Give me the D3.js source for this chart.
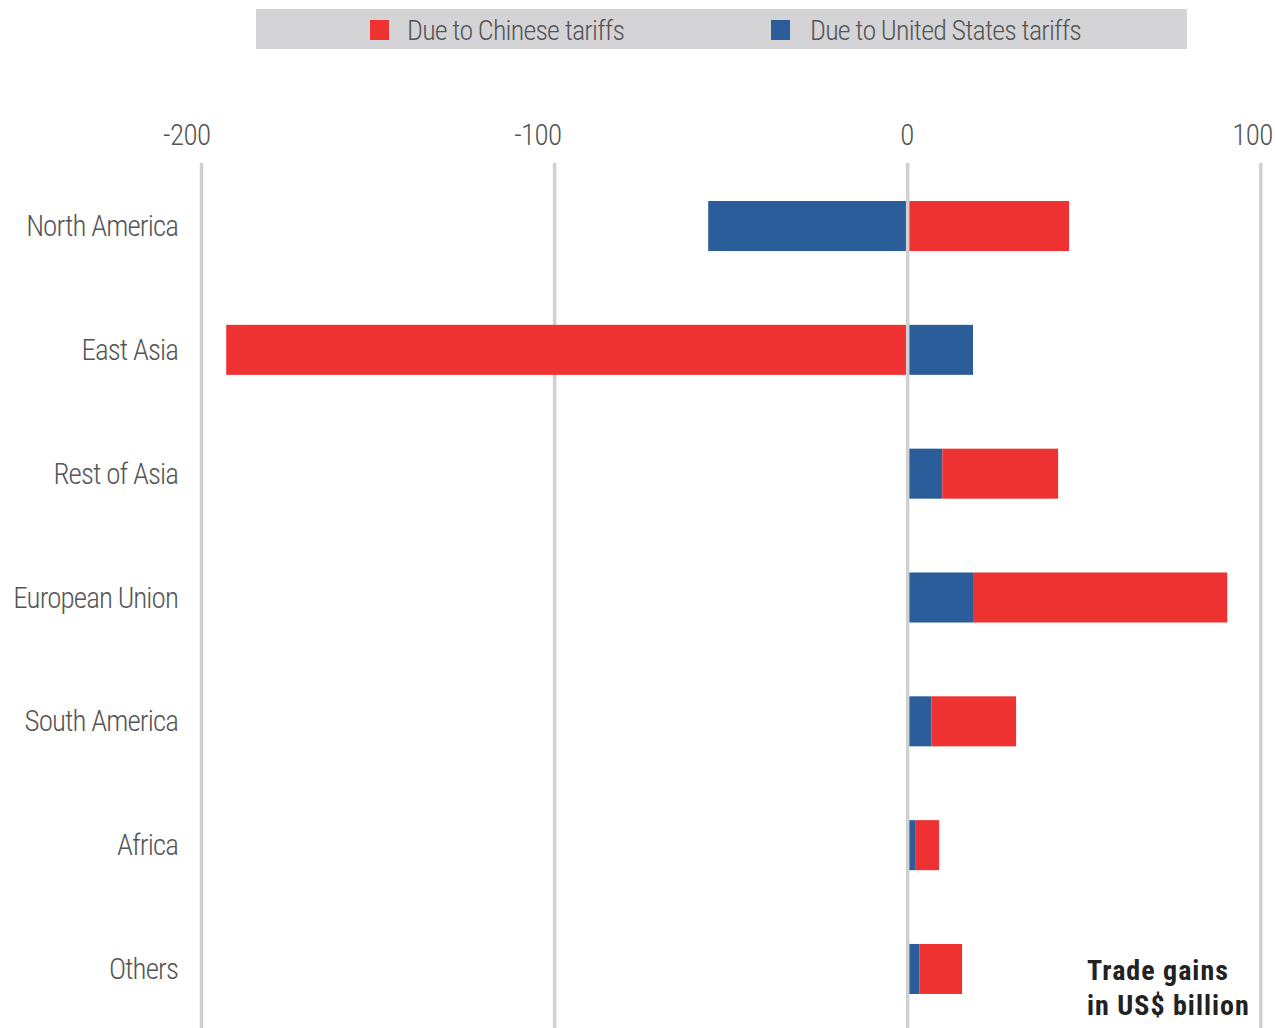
<!DOCTYPE html>
<html><head><meta charset="utf-8">
<script src="https://cdn.jsdelivr.net/npm/d3@7"></script>
<style>
body{margin:0;background:#fff;}
text{font-family:"Liberation Sans Narrow","Roboto Condensed","DejaVu Sans Condensed",sans-serif;}
.lt{font-weight:300;}
</style></head>
<body><svg id="c" width="1275" height="1028"></svg>
<script>
const categories = ["North America","East Asia","Rest of Asia","European Union","South America","Africa","Others"];
const usTariffs = [-56.5, 18.5, 9.8, 18.5, 6.7, 2.1, 3.3];
const chineseTariffs = [45.7, -193.0, 32.8, 72.0, 24.0, 6.8, 12.1];
const tickValues = [-200, -100, 0, 100];
const seriesNames = {us:"Due to United States tariffs", cn:"Due to Chinese tariffs"};

const data = categories.map((c,i)=>({cat:c, us:usTariffs[i], cn:chineseTariffs[i]}));
const svg = d3.select("#c");
const x = d3.scaleLinear().domain([-200,100]).range([201.5,1260.8]);
const y = d3.scaleBand().domain(categories).range([163,1032]).paddingInner(0.596).paddingOuter(0.307);
const color = {us:"#2c5d9b", cn:"#ee3131"};

// gridlines behind bars
svg.append("g").selectAll("line").data(tickValues.filter(d=>d!==0)).join("line")
  .attr("x1", d=>x(d)).attr("x2", d=>x(d))
  .attr("y1", 163).attr("y2", 1028)
  .attr("stroke","#d0d0d0").attr("stroke-width",3.5);

const stack = d3.stack().keys(["us","cn"]).offset(d3.stackOffsetDiverging);
const series = stack(data);

svg.append("g").selectAll("g").data(series).join("g")
  .attr("fill", s=>color[s.key])
  .selectAll("rect").data(s=>s).join("rect")
  .attr("x", d=>x(Math.min(d[0],d[1])))
  .attr("width", d=>Math.abs(x(d[1])-x(d[0])))
  .attr("y", d=>y(d.data.cat))
  .attr("height", y.bandwidth());

// zero line on top
svg.append("line")
  .attr("x1", x(0)).attr("x2", x(0))
  .attr("y1", 163).attr("y2", 1028)
  .attr("stroke","#d0d0d0").attr("stroke-width",3.5);

// tick labels
const tickDx = {"-200":9, "-100":7, "0":6, "100":12};
svg.append("g").selectAll("text").data(tickValues).join("text")
  .attr("class","lt")
  .attr("x", d=>x(d)+tickDx[d]).attr("y", 145)
  .attr("text-anchor","end")
  .attr("font-size", 29).attr("fill","#555")
  .attr("letter-spacing", -0.6)
  .text(d=>d);

// category labels
svg.append("g").selectAll("text").data(categories).join("text")
  .attr("class","lt")
  .attr("x", 178).attr("y", d=>y(d)+y.bandwidth()/2+10)
  .attr("text-anchor","end")
  .attr("font-size", 29).attr("fill","#555")
  .attr("letter-spacing", -0.9)
  .text(d=>d);

// legend
const lg = svg.append("g");
lg.append("rect").attr("x",256).attr("y",9).attr("width",931).attr("height",40).attr("fill","#d4d4d6");
const items = [{k:"cn", sx:370, tx:407},{k:"us", sx:771, tx:810}];
items.forEach(it=>{
  lg.append("rect").attr("x",it.sx).attr("y",20).attr("width",19).attr("height",20).attr("fill",color[it.k]);
  lg.append("text").attr("class","lt").attr("x",it.tx).attr("y",40).attr("font-size",28)
    .attr("letter-spacing",-0.8).attr("fill","#555").text(seriesNames[it.k]);
});

// unit note
const note = svg.append("text").attr("x",1087).attr("font-size",28).attr("font-weight","bold")
  .attr("letter-spacing",1).attr("fill","#222");
note.append("tspan").attr("x",1087).attr("y",980).text("Trade gains");
note.append("tspan").attr("x",1087).attr("y",1015).text("in US$ billion");
</script></body></html>
